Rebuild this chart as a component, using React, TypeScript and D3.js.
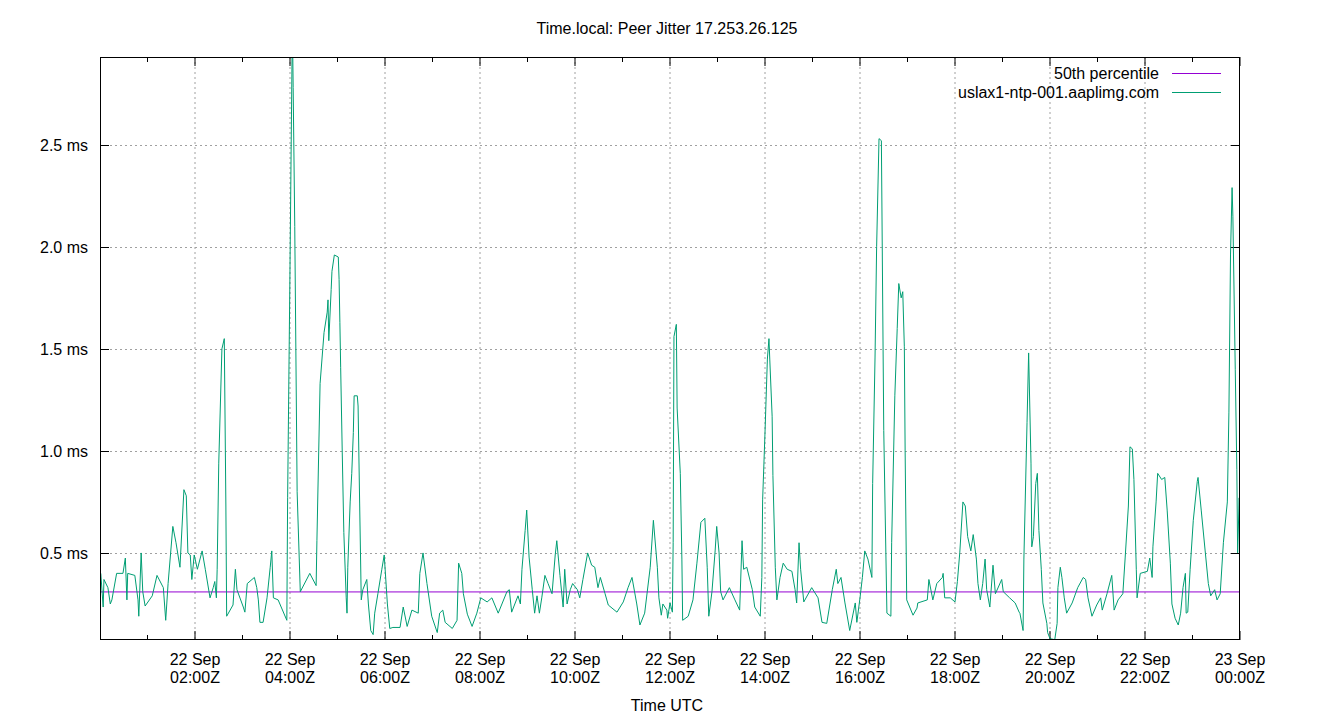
import React from "react";
import * as d3 from "d3";

const TITLE = "Time.local: Peer Jitter 17.253.26.125";
const X_LABEL = "Time UTC";
const SERIES_NAMES = ["50th percentile", "uslax1-ntp-001.aaplimg.com"];
const SERIES_COLORS = ["#9400d3", "#009e73"];
const MEDIAN_MS = 0.309;
const Y_TICKS = [0.5, 1.0, 1.5, 2.0, 2.5];
const Y_DOMAIN = [0.0735, 2.93];
const START = Date.UTC(2023, 8, 22, 0, 0);
const END = Date.UTC(2023, 8, 23, 0, 0);

// minutes after 22 Sep 00:00Z
const sampleMinutes = [
  1, 4, 5, 10, 13, 15, 21, 29, 32, 34,
  35, 44, 48, 49, 52, 54, 57, 66, 72, 80,
  83, 86, 92, 96, 101, 106, 109, 111, 114, 116,
  119, 123, 129, 133, 139, 143, 145, 147, 148, 150,
  154, 157, 159, 160, 168, 171, 173, 181, 183, 186,
  195, 198, 200, 202, 206, 211, 215, 217, 219, 225,
  236, 237, 240, 243, 244, 246, 249, 253, 265, 273,
  274, 278, 283, 287, 288, 289, 292, 293, 296, 301,
  302, 303, 304, 306, 308, 311, 312, 313, 316, 318,
  320, 321, 325, 326, 328, 330, 332, 337, 339, 342,
  345, 347, 351, 356, 359, 363, 366, 370, 379, 383,
  388, 394, 402, 404, 408, 413, 419, 426, 429, 433,
  436, 445, 451, 453, 457, 459, 464, 470, 476, 481,
  489, 495, 503, 514, 517, 520, 528, 531, 533, 537,
  539, 542, 546, 549, 552, 555, 558, 562, 566, 571,
  575, 577, 581, 585, 587, 590, 594, 597, 603, 606,
  610, 616, 621, 625, 629, 632, 638, 642, 653, 661,
  667, 672, 678, 682, 688, 695, 699, 704, 706, 709,
  711, 716, 717, 720, 723, 724, 725, 728, 729, 733,
  735, 736, 743, 749, 754, 759, 764, 767, 769, 773,
  777, 779, 782, 784, 787, 795, 802, 808, 811, 813,
  817, 824, 827, 834, 836, 837, 840, 843, 845, 846,
  849, 850, 853, 855, 859, 863, 868, 874, 878, 880,
  883, 885, 889, 899, 907, 912, 918, 925, 930, 932,
  936, 941, 947, 954, 956, 960, 963, 966, 970, 975,
  976, 979, 981, 984, 987, 990, 994, 999, 1000, 1004,
  1007, 1009, 1012, 1014, 1016, 1017, 1019, 1027, 1032, 1033,
  1045, 1047, 1050, 1052, 1057, 1064, 1065, 1067, 1074, 1080,
  1083, 1086, 1090, 1093, 1096, 1100, 1103, 1107, 1109, 1112,
  1115, 1118, 1120, 1124, 1128, 1131, 1139, 1141, 1149, 1156,
  1161, 1162, 1166, 1167, 1171, 1173, 1176, 1177, 1179, 1182,
  1184, 1186, 1189, 1191, 1196, 1197, 1200, 1206, 1209, 1210,
  1213, 1215, 1218, 1221, 1228, 1235, 1242, 1245, 1248, 1253,
  1259, 1264, 1266, 1272, 1278, 1281, 1286, 1292, 1295, 1299,
  1301, 1304, 1306, 1309, 1310, 1314, 1323, 1326, 1329, 1330,
  1334, 1336, 1341, 1345, 1348, 1352, 1354, 1358, 1362, 1365,
  1368, 1371, 1372, 1374, 1377, 1381, 1386, 1387, 1391, 1396,
  1400, 1403, 1408, 1411, 1415, 1419, 1424, 1426, 1428, 1430,
  1431, 1434, 1436, 1437, 1439, 1440,
];

// peer jitter, ms
const jitterMs = [
  0.40, 0.235, 0.37, 0.33, 0.25, 0.27, 0.40, 0.40, 0.475, 0.27,
  0.40, 0.39, 0.27, 0.19, 0.50, 0.31, 0.24, 0.29, 0.39, 0.33,
  0.17, 0.35, 0.63, 0.55, 0.43, 0.81, 0.78, 0.50, 0.49, 0.37,
  0.49, 0.42, 0.51, 0.42, 0.28, 0.33, 0.36, 0.28, 0.42, 0.94,
  1.50, 1.55, 0.73, 0.19, 0.245, 0.42, 0.32, 0.235, 0.21, 0.35,
  0.38, 0.33, 0.27, 0.16, 0.16, 0.28, 0.43, 0.51, 0.28, 0.27,
  0.17, 0.77, 1.9, 3.1, 2.78, 2.1, 0.8, 0.31, 0.40, 0.34,
  0.56, 1.33, 1.58, 1.68, 1.74, 1.54, 1.79, 1.88, 1.96, 1.95,
  1.84, 1.63, 1.41, 0.99, 0.60, 0.28, 0.205, 0.43, 0.75, 0.89,
  1.09, 1.27, 1.27, 1.22, 0.74, 0.27, 0.32, 0.37, 0.25, 0.12,
  0.10, 0.205, 0.30, 0.42, 0.49, 0.25, 0.13, 0.135, 0.135, 0.235,
  0.14, 0.22, 0.205, 0.40, 0.50, 0.35, 0.19, 0.11, 0.205, 0.22,
  0.16, 0.13, 0.17, 0.45, 0.40, 0.30, 0.20, 0.14, 0.205, 0.28,
  0.26, 0.28, 0.205, 0.31, 0.32, 0.21, 0.29, 0.25, 0.42, 0.61,
  0.71, 0.48, 0.32, 0.205, 0.29, 0.205, 0.28, 0.39, 0.35, 0.30,
  0.49, 0.56, 0.39, 0.235, 0.42, 0.25, 0.32, 0.35, 0.32, 0.28,
  0.37, 0.50, 0.44, 0.43, 0.33, 0.38, 0.30, 0.245, 0.21, 0.26,
  0.33, 0.38, 0.25, 0.147, 0.205, 0.43, 0.66, 0.43, 0.28, 0.195,
  0.25, 0.22, 0.18, 0.255, 0.21, 0.55, 1.56, 1.62, 1.21, 0.89,
  0.47, 0.17, 0.19, 0.27, 0.45, 0.65, 0.67, 0.43, 0.19, 0.31,
  0.51, 0.63, 0.50, 0.31, 0.27, 0.33, 0.27, 0.22, 0.56, 0.42,
  0.43, 0.32, 0.235, 0.19, 0.38, 0.76, 1.09, 1.45, 1.55, 1.45,
  1.17, 0.88, 0.43, 0.27, 0.38, 0.45, 0.42, 0.41, 0.32, 0.255,
  0.55, 0.42, 0.26, 0.33, 0.28, 0.16, 0.155, 0.32, 0.42, 0.35,
  0.38, 0.255, 0.12, 0.255, 0.16, 0.28, 0.38, 0.51, 0.47, 0.38,
  0.84, 1.46, 2.0, 2.53, 2.52, 1.10, 0.205, 0.19, 0.55, 1.27,
  1.6, 1.82, 1.75, 1.78, 1.51, 1.0, 0.27, 0.195, 0.23, 0.255,
  0.27, 0.37, 0.31, 0.27, 0.35, 0.38, 0.40, 0.28, 0.28, 0.26,
  0.36, 0.50, 0.75, 0.73, 0.58, 0.51, 0.59, 0.47, 0.35, 0.27,
  0.35, 0.47, 0.32, 0.235, 0.44, 0.30, 0.37, 0.31, 0.28, 0.255,
  0.21, 0.205, 0.12, 0.47, 1.14, 1.48, 0.94, 0.53, 0.58, 0.84,
  0.89, 0.61, 0.42, 0.255, 0.155, 0.11, 0.08, 0.075, 0.155, 0.33,
  0.43, 0.38, 0.28, 0.205, 0.255, 0.33, 0.38, 0.37, 0.28, 0.19,
  0.245, 0.28, 0.22, 0.30, 0.39, 0.22, 0.27, 0.30, 0.48, 0.73,
  1.02, 1.01, 0.86, 0.42, 0.28, 0.40, 0.41, 0.475, 0.38, 0.53,
  0.75, 0.89, 0.86, 0.87, 0.71, 0.45, 0.25, 0.18, 0.147, 0.205,
  0.33, 0.40, 0.205, 0.21, 0.42, 0.66, 0.85, 0.87, 0.71, 0.51,
  0.35, 0.29, 0.32, 0.27, 0.30, 0.55, 0.75, 1.19, 1.96, 2.29,
  2.15, 1.40, 0.91, 0.50, 0.77, 0.50,
];

const W = 1340;
const H = 720;
const PL = 100;
const PR = 1240;
const PT = 57;
const PB = 640;
const FONT = "'Liberation Sans', Arial, sans-serif";
const FS = 16;

export default function App() {
  const x = d3.scaleUtc().domain([new Date(START), new Date(END)]).range([PL, PR]);
  const y = d3.scaleLinear().domain(Y_DOMAIN).range([PB, PT]);

  const majorTicks = d3.utcHour.every(2)!.range(new Date(START + 1), new Date(END + 1));
  const minorTicks = d3.utcHour
    .every(1)!
    .range(new Date(START + 1), new Date(END))
    .filter((d) => d.getUTCHours() % 2 === 1);

  const samples = d3.zip(sampleMinutes, jitterMs) as [number, number][];
  const line = d3
    .line<[number, number]>()
    .x((d) => x(new Date(START + d[0] * 60000)))
    .y((d) => y(d[1]));

  const fmtDay = d3.utcFormat("%d %b");
  const fmtHour = d3.utcFormat("%H:%MZ");
  const fmtMs = (v: number) => `${v.toFixed(1)} ms`;

  const gridColor = "#a0a0a0";
  const dash = "2,3";
  const ry = (v: number) => Math.round(y(v)) + 0.5;

  return (
    <svg
      width={W}
      height={H}
      style={{ position: "absolute", left: 0, top: 0, background: "#fff" }}
      fontFamily={FONT}
    >
      <rect x={0} y={0} width={W} height={H} fill="#fff" />
      <defs>
        <clipPath id="plotClip">
          <rect x={PL} y={PT} width={PR - PL} height={PB - PT} />
        </clipPath>
      </defs>

      {/* grid */}
      {majorTicks
        .filter((d) => +d < END)
        .map((d, i) => (
          <line
            key={"gx" + i}
            x1={x(d)}
            x2={x(d)}
            y1={PT}
            y2={PB}
            stroke={gridColor}
            strokeDasharray={dash}
            strokeWidth={1}
          />
        ))}
      {Y_TICKS.map((v, i) => (
        <line
          key={"gy" + i}
          x1={PL}
          x2={PR}
          y1={ry(v)}
          y2={ry(v)}
          stroke={gridColor}
          strokeDasharray={dash}
          strokeWidth={1}
        />
      ))}

      {/* ticks */}
      {majorTicks.map((d, i) => (
        <g key={"mt" + i}>
          <line x1={x(d)} x2={x(d)} y1={PB} y2={PB - 9} stroke="#000" />
          <line x1={x(d)} x2={x(d)} y1={PT} y2={PT + 9} stroke="#000" />
          <text x={x(d)} y={665} textAnchor="middle" fontSize={FS} fill="#000">
            {fmtDay(d)}
          </text>
          <text x={x(d)} y={683} textAnchor="middle" fontSize={FS} fill="#000">
            {fmtHour(d)}
          </text>
        </g>
      ))}
      {minorTicks.map((d, i) => (
        <g key={"nt" + i}>
          <line x1={x(d)} x2={x(d)} y1={PB} y2={PB - 5} stroke="#000" />
          <line x1={x(d)} x2={x(d)} y1={PT} y2={PT + 5} stroke="#000" />
        </g>
      ))}
      {Y_TICKS.map((v, i) => (
        <g key={"yt" + i}>
          <line x1={PL} x2={PL + 9} y1={ry(v)} y2={ry(v)} stroke="#000" />
          <line x1={PR} x2={PR - 9} y1={ry(v)} y2={ry(v)} stroke="#000" />
          <text x={88} y={y(v) + 6} textAnchor="end" fontSize={FS} fill="#000">
            {fmtMs(v)}
          </text>
        </g>
      ))}

      {/* series */}
      <g clipPath="url(#plotClip)">
        <line
          x1={PL}
          x2={PR}
          y1={y(MEDIAN_MS)}
          y2={y(MEDIAN_MS)}
          stroke={SERIES_COLORS[0]}
          strokeWidth={1}
        />
        <path d={line(samples) || ""} fill="none" stroke={SERIES_COLORS[1]} strokeWidth={1} />
      </g>

      {/* border */}
      <rect x={PL + 0.5} y={PT + 0.5} width={PR - PL - 1} height={PB - PT - 1} fill="none" stroke="#000" strokeWidth={1} />

      {/* legend */}
      {SERIES_NAMES.map((name, i) => (
        <g key={"lg" + i}>
          <text x={1159} y={79 + i * 19} textAnchor="end" fontSize={FS} fill="#000">
            {name}
          </text>
          <line x1={1172} x2={1221} y1={73.5 + i * 19} y2={73.5 + i * 19} stroke={SERIES_COLORS[i]} strokeWidth={1} />
        </g>
      ))}

      {/* titles */}
      <text x={667} y={34} textAnchor="middle" fontSize={FS} fill="#000">
        {TITLE}
      </text>
      <text x={667} y={711} textAnchor="middle" fontSize={FS} fill="#000">
        {X_LABEL}
      </text>
    </svg>
  );
}
